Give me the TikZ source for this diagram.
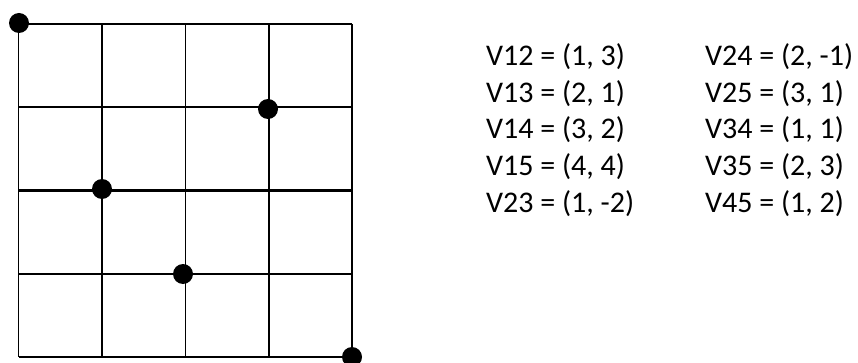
\documentclass[tikz,border=0pt]{standalone}
\usepackage{fontspec}
\setmainfont{Carlito}
\usetikzlibrary{positioning}

\begin{document}
\begin{tikzpicture}[
    x=1pt, y=-1pt,
    gridline/.style={
        draw=black,
        line width=1.6pt
    },
    dot/.style={
        circle,
        fill=black,
        inner sep=0pt,
        minimum size=20pt
    },
    vec/.style={
        anchor=base west,
        inner sep=0pt,
        font=\fontsize{30}{36}\selectfont
    }
]
\useasboundingbox (0,0) rectangle (858,363);

% grid
\foreach \i in {0,...,4} {
    \draw[gridline] ({18.5+83.4*\i},24) -- ({18.5+83.4*\i},357);
    \draw[gridline] (18.5,{24+83.25*\i}) -- (352,{24+83.25*\i});
}
\draw[gridline, line width=2.2pt] (18.5,190.5) -- (352,190.5);

% points
\node[dot] (P1) at (19,23) {};
\node[dot] (P2) at (268,109) {};
\node[dot] (P3) at (102,189) {};
\node[dot] (P4) at (183,274) {};
\node[dot] (P5) at (352,357) {};

% vectors
\node[vec] (V12) at (486,66) {V12 = (1, 3)};
\node[vec] (V13) at (486,102.5) {V13 = (2, 1)};
\node[vec] (V14) at (486,139) {V14 = (3, 2)};
\node[vec] (V15) at (486,175.5) {V15 = (4, 4)};
\node[vec] (V23) at (486,212) {V23 = (1, -2)};

\node[vec] (V24) at (705,66) {V24 = (2, -1)};
\node[vec] (V25) at (705,102.5) {V25 = (3, 1)};
\node[vec] (V34) at (705,139) {V34 = (1, 1)};
\node[vec] (V35) at (705,175.5) {V35 = (2, 3)};
\node[vec] (V45) at (705,212) {V45 = (1, 2)};

\end{tikzpicture}
\end{document}
